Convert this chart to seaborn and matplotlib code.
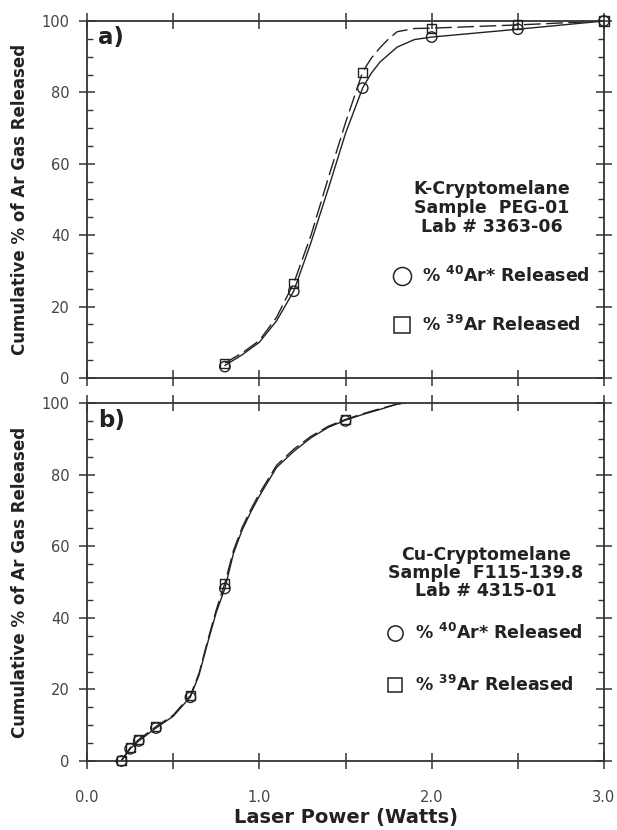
import matplotlib
matplotlib.use("Agg")
import matplotlib.pyplot as plt
import seaborn as sns
from matplotlib.lines import Line2D
from matplotlib.ticker import FixedLocator, FixedFormatter

# ---------------- data ----------------
# Panel a) K-Cryptomelane PEG-01
a_power = [0.8, 1.2, 1.6, 2.0, 2.5, 3.0]
a_ar40 = [3.2, 24.3, 81.2, 95.5, 97.7, 100.0]
a_ar39 = [4.0, 26.4, 85.6, 98.0, 99.0, 100.0]
# hand-drawn fitted curves
a_fit40_x = [0.80, 0.90, 1.00, 1.10, 1.20, 1.30, 1.40, 1.50, 1.60, 1.65, 1.70, 1.80, 1.90, 2.00, 2.50, 3.00]
a_fit40_y = [3.5, 6.5, 10.0, 16.0, 24.4, 38.0, 53.0, 68.5, 81.3, 85.4, 88.5, 92.7, 94.8, 95.5, 97.7, 100.0]
a_fit39_x = [0.80, 0.90, 1.00, 1.10, 1.20, 1.30, 1.40, 1.50, 1.60, 1.65, 1.70, 1.75, 1.80, 1.90, 2.00, 2.50, 3.00]
a_fit39_y = [4.2, 7.0, 10.5, 17.0, 26.6, 40.0, 56.0, 71.5, 85.8, 89.6, 92.5, 95.0, 97.0, 97.9, 98.0, 98.9, 100.0]

# Panel b) Cu-Cryptomelane F115-139.8
b_power = [0.2, 0.25, 0.3, 0.4, 0.6, 0.8, 1.5]
b_ar40 = [0.0, 3.4, 5.6, 9.2, 17.8, 48.2, 95.0]
b_ar39 = [0.2, 3.7, 6.0, 9.6, 18.3, 49.7, 95.4]
b_fit40_x = [0.20, 0.25, 0.30, 0.40, 0.50, 0.60, 0.65, 0.70, 0.75, 0.80, 0.85, 0.90, 0.95, 1.00, 1.10, 1.20, 1.30, 1.40, 1.50, 1.60, 1.70, 1.80, 1.85]
b_fit40_y = [0.0, 3.4, 5.6, 9.2, 12.5, 17.9, 24.0, 33.0, 41.5, 48.2, 58.0, 64.5, 69.5, 74.0, 82.0, 86.5, 90.3, 93.2, 95.2, 96.8, 98.2, 99.7, 100.0]
b_fit39_x = [0.20, 0.25, 0.30, 0.40, 0.50, 0.60, 0.65, 0.70, 0.75, 0.80, 0.85, 0.90, 0.95, 1.00, 1.10, 1.20, 1.30, 1.40, 1.50, 1.60, 1.70, 1.80, 1.85]
b_fit39_y = [0.2, 3.7, 6.0, 9.6, 12.8, 18.3, 24.5, 33.6, 42.2, 49.7, 58.8, 65.2, 70.2, 74.7, 82.6, 87.1, 90.7, 93.5, 95.4, 97.0, 98.4, 99.7, 100.0]

x_ticks = [0.0, 0.5, 1.0, 1.5, 2.0, 2.5, 3.0]
x_tick_labels = ["0.0", "", "1.0", "", "2.0", "", "3.0"]
y_ticks = [0, 20, 40, 60, 80, 100]
y_tick_labels = ["0", "20", "40", "60", "80", "100"]
y_minor = [5, 10, 15, 25, 30, 35, 45, 50, 55, 65, 70, 75, 85, 90, 95]

a_text = "K-Cryptomelane\nSample  PEG-01\nLab # 3363-06"
b_text = "Cu-Cryptomelane\nSample  F115-139.8\nLab # 4315-01"
legend_labels = [r"% $^{\mathbf{40}}$Ar* Released", r"% $^{\mathbf{39}}$Ar Released"]
y_label = "Cumulative % of Ar Gas Released"
x_label = "Laser Power (Watts)"

# ---------------- style ----------------
sns.set_style("ticks")
plt.rcParams["font.family"] = ["DejaVu Sans"]
plt.rcParams["mathtext.fontset"] = "dejavusans"

INK = "#222222"
W, H = 617, 830
fig = plt.figure(figsize=(W / 100, H / 100), dpi=100)
axA = fig.add_axes([87 / W, 1 - 378 / H, 517 / W, 357 / H])
axB = fig.add_axes([87 / W, 1 - 761 / H, 517 / W, 358 / H])


def draw(ax, px, c40, c39, fx40, fy40, fx39, fy39):
    sns.lineplot(x=fx40, y=fy40, ax=ax, color=INK, lw=1.0, sort=False, estimator=None)
    sns.lineplot(x=fx39, y=fy39, ax=ax, color=INK, lw=1.0, sort=False, estimator=None,
                 linestyle=(0, (12, 4)))
    sns.scatterplot(x=px, y=c40, ax=ax, marker="o", s=56, facecolor="none",
                    edgecolor=INK, linewidth=1.0, clip_on=False, zorder=4)
    sns.scatterplot(x=px, y=c39, ax=ax, marker="s", s=42, facecolor="none",
                    edgecolor=INK, linewidth=1.0, clip_on=False, zorder=4)


def style(ax, bottom):
    ax.set_xlim(0, 3.0)
    ax.set_ylim(0, 100)
    ax.xaxis.set_major_locator(FixedLocator(x_ticks))
    ax.xaxis.set_major_formatter(FixedFormatter(x_tick_labels if bottom else [""] * len(x_ticks)))
    ax.yaxis.set_major_locator(FixedLocator(y_ticks))
    ax.yaxis.set_major_formatter(FixedFormatter(y_tick_labels))
    ax.yaxis.set_minor_locator(FixedLocator(y_minor))
    for s in ax.spines.values():
        s.set_visible(True)
        s.set_linewidth(1.3)
        s.set_color("#333333")
    ax.tick_params(which="major", direction="inout", length=12, width=1.1,
                   top=True, right=True, color="#333333", labelsize=10.5,
                   labelcolor="#444444")
    ax.tick_params(axis="y", which="major", pad=6.5)
    ax.tick_params(axis="x", which="major", pad=15)
    ax.tick_params(axis="y", which="minor", direction="in", length=4.5, width=1.0,
                   left=True, right=True, color="#333333")
    ax.set_ylabel(y_label, fontsize=12, fontweight="bold", color=INK)
    ax.yaxis.set_label_coords(-0.112, 0.5)
    ax.set_xlabel("")
    ax.grid(False)


draw(axA, a_power, a_ar40, a_ar39, a_fit40_x, a_fit40_y, a_fit39_x, a_fit39_y)
draw(axB, b_power, b_ar40, b_ar39, b_fit40_x, b_fit40_y, b_fit39_x, b_fit39_y)
style(axA, False)
style(axB, True)

axB.set_xlabel(x_label, fontsize=14, fontweight="bold", color=INK)
axB.xaxis.set_label_coords(0.5, -0.132)

axA.text(0.021, 0.936, "a)", transform=axA.transAxes, fontsize=16.5,
         fontweight="bold", va="baseline", color=INK)
axB.text(0.021, 0.933, "b)", transform=axB.transAxes, fontsize=16.5,
         fontweight="bold", va="baseline", color=INK)

axA.text(0.783, 0.476, a_text, transform=axA.transAxes, ha="center", va="center",
         multialignment="center", fontsize=12.5, fontweight="bold", linespacing=1.1,
         color=INK)
axB.text(0.772, 0.525, b_text, transform=axB.transAxes, ha="center", va="center",
         multialignment="center", fontsize=12.5, fontweight="bold", linespacing=1.03,
         color=INK)


def add_legend(ax, xpix, ypix, ms_c, ms_s, spacing):
    handles = [
        Line2D([], [], marker="o", ls="none", mfc="none", mec=INK, ms=ms_c, mew=1.1),
        Line2D([], [], marker="s", ls="none", mfc="none", mec=INK, ms=ms_s, mew=1.1),
    ]
    leg = ax.legend(handles, legend_labels, loc="center left",
                    bbox_to_anchor=(xpix / W, 1 - ypix / H), bbox_transform=fig.transFigure,
                    frameon=False, prop={"weight": "bold", "size": 12.5},
                    handlelength=1.0, handletextpad=0.67, labelspacing=spacing,
                    borderpad=0, borderaxespad=0, labelcolor=INK)
    return leg


add_legend(axA, 393, 300.5, 13, 12, 1.7)
add_legend(axB, 386, 659, 11, 10.5, 1.85)

fig.savefig("out.png", dpi=100)
